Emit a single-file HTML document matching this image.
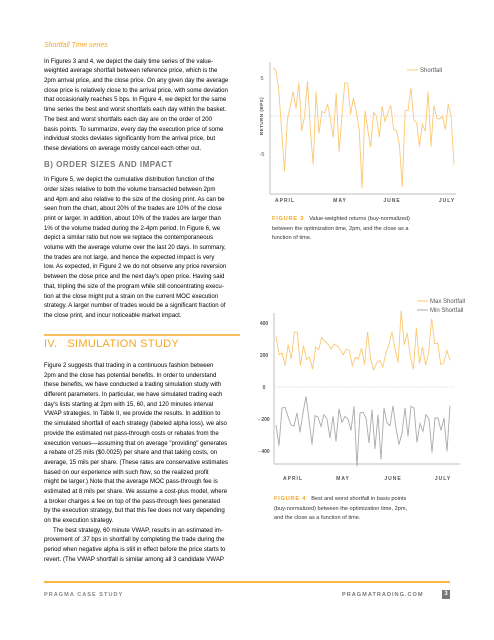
<!DOCTYPE html>
<html><head><meta charset="utf-8"><style>
body{margin:0;width:494px;height:640px;background:#fff;position:relative;overflow:hidden;font-family:"Liberation Sans",sans-serif;color:#000}
.col{position:absolute;left:44px;width:200px;font-size:6.1px;line-height:9.7px;white-space:nowrap}
.l{height:9.7px}
.h{color:#f5a623;font-style:italic;font-size:7px}
.hb{color:#777;font-size:8px;letter-spacing:.5px;font-weight:bold}
.h4{color:#f5a623;font-size:11px;letter-spacing:.3px}
.ind{text-indent:9px}
svg{position:absolute;left:0;top:0}
.cap{position:absolute;font-size:5.6px;line-height:9.6px;color:#333;white-space:nowrap}
.cap b{color:#f5a623;letter-spacing:.8px;margin-right:5px}
</style></head><body>
<div class="col" style="top:41px">
<div class="l h">Shortfall Time series</div>
<div style="height:6px"></div>
<div>
<div class="l">In Figures 3 and 4, we depict the daily time series of the value-</div>
<div class="l">weighted average shortfall between reference price, which is the</div>
<div class="l">2pm arrival price, and the close price. On any given day the average</div>
<div class="l">close price is relatively close to the arrival price, with some deviation</div>
<div class="l">that occasionally reaches 5 bps. In Figure 4, we depict for the same</div>
<div class="l">time series the best and worst shortfalls each day within the basket.</div>
<div class="l">The best and worst shortfalls each day are on the order of 200</div>
<div class="l">basis points. To summarize, every day the execution price of some</div>
<div class="l">individual stocks deviates significantly from the arrival price, but</div>
<div class="l">these deviations on average mostly cancel each other out.</div>
</div>
<div style="height:6px"></div>
<div class="l hb">B) ORDER SIZES AND IMPACT</div>
<div style="height:6px"></div>
<div>
<div class="l">In Figure 5, we depict the cumulative distribution function of the</div>
<div class="l">order sizes relative to both the volume transacted between 2pm</div>
<div class="l">and 4pm and also relative to the size of the closing print. As can be</div>
<div class="l">seen from the chart, about 20% of the trades are 10% of the close</div>
<div class="l">print or larger. In addition, about 10% of the trades are larger than</div>
<div class="l">1% of the volume traded during the 2-4pm period. In Figure 6, we</div>
<div class="l">depict a similar ratio but now we replace the contemporaneous</div>
<div class="l">volume with the average volume over the last 20 days. In summary,</div>
<div class="l">the trades are not large, and hence the expected impact is very</div>
<div class="l">low. As expected, in Figure 2 we do not observe any price reversion</div>
<div class="l">between the close price and the next day's open price. Having said</div>
<div class="l">that, tripling the size of the program while still concentrating execu-</div>
<div class="l">tion at the close might put a strain on the current MOC execution</div>
<div class="l">strategy. A larger number of trades would be a significant fraction of</div>
<div class="l">the close print, and incur noticeable market impact.</div>
</div></div>
<div style="position:absolute;left:44px;top:334px;width:196px;height:1.5px;background:#f9c15a"></div>
<div class="col" style="top:340px">
<div class="h4" style="height:20px">IV.&nbsp;&nbsp;&nbsp;SIMULATION STUDY</div>
<div style="height:1px"></div>
<div>
<div class="l">Figure 2 suggests that trading in a continuous fashion between</div>
<div class="l">2pm and the close has potential benefits. In order to understand</div>
<div class="l">these benefits, we have conducted a trading simulation study with</div>
<div class="l">different parameters. In particular, we have simulated trading each</div>
<div class="l">day's lists starting at 2pm with 15, 60, and 120 minutes interval</div>
<div class="l">VWAP strategies. In Table II, we provide the results. In addition to</div>
<div class="l">the simulated shortfall of each strategy (labeled alpha loss), we also</div>
<div class="l">provide the estimated net pass-through costs or rebates from the</div>
<div class="l">execution venues—assuming that on average "providing" generates</div>
<div class="l">a rebate of 25 mils ($0.0025) per share and that taking costs, on</div>
<div class="l">average, 15 mils per share. (These rates are conservative estimates</div>
<div class="l">based on our experience with such flow, so the realized profit</div>
<div class="l">might be larger.) Note that the average MOC pass-through fee is</div>
<div class="l">estimated at 8 mils per share. We assume a cost-plus model, where</div>
<div class="l">a broker charges a fee on top of the pass-through fees generated</div>
<div class="l">by the execution strategy, but that this fee does not vary depending</div>
<div class="l">on the execution strategy.</div>
<div class="l ind">The best strategy, 60 minute VWAP, results in an estimated im-</div>
<div class="l">provement of .37 bps in shortfall by completing the trade during the</div>
<div class="l">period when negative alpha is still in effect before the price starts to</div>
<div class="l">revert. (The VWAP shortfall is similar among all 3 candidate VWAP</div>
</div></div>

<div class="cap" style="left:272px;top:215px"><b>FIGURE 3</b>Value-weighted returns (buy-normalized)<br>between the optimization time, 2pm, and the close as a<br>function of time.</div>
<div class="cap" style="left:274px;top:495px"><b>FIGURE 4</b>Best and worst shortfall in basis points<br>(buy-normalized) between the optimization time, 2pm,<br>and the close as a function of time.</div>

<div style="position:absolute;left:44px;top:581px;width:406px;height:1.5px;background:#f9b640"></div>
<div style="position:absolute;left:44px;top:592px;font-size:5.6px;letter-spacing:1px;color:#888;font-weight:bold">PRAGMA CASE STUDY</div>
<div style="position:absolute;left:342px;top:592px;font-size:5.6px;letter-spacing:1px;color:#777;font-weight:bold">PRAGMATRADING.COM</div>
<div style="position:absolute;left:442px;top:590px;width:8px;height:9px;background:#777;color:#fff;font-size:6px;text-align:center;line-height:9px;font-weight:bold">3</div>

<svg id="chart" width="494" height="640"></svg>
<script>
const months=["APRIL","MAY","JUNE","JULY"];
const shortfall=[6.4,6,3.5,-1.8,-7.3,-0.5,1.3,3.2,1,4.4,-2,0,4.6,-1.8,-6.4,3.2,-2.3,0.6,0.4,1.6,-0.5,-2.8,3,-4.7,0.2,4.4,4.3,0.2,2.4,0.6,-1.8,-9.5,0.7,-1.8,-4.1,0.5,0,-2.8,1.3,-0.7,0.4,1.4,-1.8,-1.9,-3.8,-9.3,0.7,0.7,3.7,-0.5,-0.9,-4,-1.1,-2,3.2,-4,1.4,-0.3,-0.4,0,-1.8,1.6,0,-6.4];
const ticks3=[5,-5];
const maxShort=[317,202,212,133,265,175,344,342,133,258,171,187,112,250,233,310,285,269,237,269,258,233,202,237,229,133,187,175,244,140,344,171,108,150,167,125,212,265,344,233,154,479,265,337,192,112,369,146,250,137,212,427,271,271,140,154,229,167];
const minShort=[-237,-367,-131,-127,-183,-237,-244,-162,-283,-162,-58,-204,-360,-179,-187,-246,-173,-200,-319,-183,-340,-137,-221,-183,-200,-271,-121,-496,-162,-158,-194,-350,-142,-387,-173,-454,-131,-225,-242,-117,-256,-360,-287,-131,-308,-121,-131,-346,-229,-277,-173,-200,-408,-194,-194,-271,-194,-402,-117];
const ticks4=[400,200,0,-200,-400];
const tickLabels4=["400","200","0","- 200","- 400"];

const svg=document.getElementById('chart');
const NS="http://www.w3.org/2000/svg";
function mk(tag,attrs,name){const e=document.createElementNS(NS,tag);for(const k in attrs)e.setAttribute(k,attrs[k]);


svg.appendChild(e);return e;}
function txt(x,y,s,name,extra){const t=mk('text',Object.assign({x:x,y:y,'font-size':5.5,fill:'#555','font-family':'Liberation Sans, sans-serif'},extra||{}),name);t.textContent=s;return t;}
function line(data,sx,sy,color,name){let d=data.map((v,i)=>(i?'L':'M')+sx(i).toFixed(1)+' '+sy(v).toFixed(1)).join('');mk('path',{d:d,fill:'none',stroke:color,'stroke-width':0.9},name);}

const x3=i=>273+i*(454-273)/(shortfall.length-1);
const y3=v=>116-v*7.6;
mk('line',{x1:270,y1:62,x2:270,y2:194,stroke:'#ccc','stroke-width':1.2},'fig3-y-axis');
mk('line',{x1:270,y1:194,x2:456,y2:194,stroke:'#ccc','stroke-width':1.2},'fig3-x-axis');
mk('line',{x1:271,y1:y3(0),x2:455,y2:y3(0),stroke:'#bbb','stroke-width':0.6,'stroke-dasharray':'1.5,1.5'},'fig3-zero-line');
ticks3.forEach(t=>txt(262,y3(t)+2,String(t),'fig3-y-tick',{'text-anchor':'middle'}));
txt(0,0,'RETURN (BPS)','fig3-y-axis-title',{transform:'translate(263,116) rotate(-90)','text-anchor':'middle','font-size':4.5,'font-weight':'bold','letter-spacing':'0.5'});
const mx3=[285,340,392,447];
months.forEach((m,i)=>txt(mx3[i],202,m,'fig3-month-label',{'text-anchor':'middle','font-size':5,'font-weight':'bold','letter-spacing':'1'}));
line(shortfall,x3,y3,'#fcc872','shortfall-line');
mk('line',{x1:407,y1:70,x2:418,y2:70,stroke:'#fcc872','stroke-width':1},'fig3-legend-swatch');
txt(420,72,'Shortfall','fig3-legend-label',{'font-size':6});

const x4=i=>276+i*(450-276)/(minShort.length-1);
const y4=v=>387-v*0.16;
mk('line',{x1:274,y1:313,x2:274,y2:464,stroke:'#ccc','stroke-width':1.2},'fig4-y-axis');
mk('line',{x1:274,y1:464,x2:460,y2:464,stroke:'#ccc','stroke-width':1.2},'fig4-x-axis');
mk('line',{x1:275,y1:y4(0),x2:455,y2:y4(0),stroke:'#bbb','stroke-width':0.6,'stroke-dasharray':'1.5,1.5'},'fig4-zero-line');
ticks4.forEach((t,i)=>txt(264,y4(t)+2,tickLabels4[i],'fig4-y-tick',{'text-anchor':'middle','font-weight':'bold','font-size':5}));
const mx4=[293,343,393,443];
months.forEach((m,i)=>txt(mx4[i],480,m,'fig4-month-label',{'text-anchor':'middle','font-size':5,'font-weight':'bold','letter-spacing':'1'}));
line(maxShort,i=>276+i*(450-276)/(maxShort.length-1),y4,'#fcc872','max-shortfall-line');
line(minShort,x4,y4,'#aaa','min-shortfall-line');
mk('line',{x1:417,y1:301,x2:428,y2:301,stroke:'#fcc872','stroke-width':1},'fig4-legend-max-swatch');
txt(430,303,'Max Shortfall','fig4-legend-max-label',{'font-size':6});
mk('line',{x1:417,y1:310,x2:428,y2:310,stroke:'#aaa','stroke-width':1},'fig4-legend-min-swatch');
txt(430,312,'Min Shortfall','fig4-legend-min-label',{'font-size':6});
</script>
</body></html>
